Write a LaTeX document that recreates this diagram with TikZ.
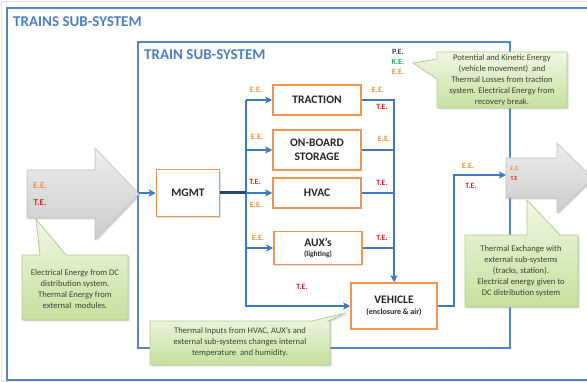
\documentclass[tikz,border=0pt]{standalone}
\usepackage{fontspec}
\setmainfont{Carlito}
\usetikzlibrary{arrows.meta,shadows,calc}
\definecolor{lnblue}{RGB}{62,122,196}
\definecolor{frblue}{RGB}{84,134,198}
\definecolor{ttlblue}{RGB}{78,128,192}
\definecolor{orng}{RGB}{240,150,85}
\definecolor{eeor}{RGB}{238,140,60}
\definecolor{tered}{RGB}{224,36,36}
\definecolor{pecol}{RGB}{45,65,125}
\definecolor{kecol}{RGB}{40,165,100}
\definecolor{grtop}{RGB}{240,247,228}
\definecolor{grbot}{RGB}{198,224,158}
\definecolor{grbrd}{RGB}{178,206,145}
\definecolor{cttext}{RGB}{62,66,52}
\definecolor{darkln}{RGB}{40,72,105}
\begin{document}
\begin{tikzpicture}[x=1pt,y=-1pt,
  bl/.style={draw=lnblue,line width=2.2pt},
  arr/.style={-{Stealth[length=7pt,width=7pt,inset=1.5pt]}},
  box/.style={draw=orng,line width=1.5pt,fill=white,minimum width=88pt,minimum height=30pt,
    align=center,font=\bfseries\fontsize{11.5}{14}\selectfont,text=black!85,inner sep=1pt,
    drop shadow={opacity=0.25,shadow xshift=1.2pt,shadow yshift=-1.2pt}},
  lab/.style={font=\bfseries\fontsize{8}{9}\selectfont,inner sep=0pt},
  ee/.style={lab,text=eeor},
  te/.style={lab,text=tered},
  frm/.style={draw=frblue,line width=1.8pt},
  callout/.style={draw=grbrd,line width=0.8pt,top color=grtop,bottom color=grbot,
    drop shadow={opacity=0.3,shadow xshift=1.5pt,shadow yshift=-1.5pt}},
  ctext/.style={font=\fontsize{8.6}{11}\selectfont,text=cttext,align=center,inner sep=0pt},
  bigarr/.style={draw=gray!50,line width=0.6pt,top color=gray!14,bottom color=gray!40,
    drop shadow={opacity=0.3,shadow xshift=1.5pt,shadow yshift=-1.5pt}},
  ttl/.style={font=\bfseries\fontsize{15}{17}\selectfont,text=ttlblue,anchor=west,inner sep=0pt}
]
\path[use as bounding box] (0,0) rectangle (587,382);
\clip (0,0) rectangle (587,382);
\fill[white] (0,0) rectangle (587,382);
\draw[blue!12,line width=0.8pt] (1,1) rectangle (592,381);

% frames
\draw[frm] (7,8) rectangle (600,380);
\draw[frm] (138,42) rectangle (510,348);

\coordinate (lbus) at (246,100);
\coordinate (ltip) at (138,193);
\coordinate (vup) at (454,175);
\coordinate (rin) at (506,175);

% nodes
\node[box] (trac) at (317,100) {TRACTION};
\node[box,minimum height=40pt] (stor) at (317,150) {ON-BOARD\\STORAGE};
\node[box] (hvac) at (317,193) {HVAC};
\node[box,minimum height=33pt] (aux) at (318,248) {AUX's\\[-4pt]{\fontsize{7.5}{9}\selectfont(lighting)}};
\node[box,minimum width=63pt,minimum height=47pt] (mgmt) at (188,193) {MGMT};
\node[box,minimum width=86pt,minimum height=46pt] (veh) at (394,306) {VEHICLE\\[-3pt]{\fontsize{8}{9}\selectfont(enclosure \& air)}};

% left bus
\draw[bl,arr] (lbus) -- (trac.west);
\draw[bl,arr] (lbus) |- (veh.west);
\draw[bl,arr] (lbus |- stor.west) -- (stor.west);
\draw[bl,arr] (mgmt.east) -- (hvac.west);
\draw[draw=darkln,line width=3pt] (mgmt.east) -- (lbus |- mgmt.east);
\draw[bl,arr] (lbus |- aux.west) -- (aux.west);
% right bus
\draw[bl,arr] (trac.east) -| (veh.north);
\draw[bl] (stor.east) -- (stor.east -| veh.north);
\draw[bl] (hvac.east) -- (hvac.east -| veh.north);
\draw[bl] (aux.east) -- (aux.east -| veh.north);
% vehicle out
\draw[bl,arr] (veh.east) -| (vup) -- (rin);
% in to mgmt
\draw[bl,arr] (ltip) -- (mgmt.west);

% big arrows
\path[bigarr] (27,170) -- (95,170) -- (95,148) -- (139,194) -- (95,240) -- (95,218) -- (27,218) -- cycle;
\path[bigarr] (506,158) -- (557,158) -- (557,143) -- (593,178) -- (557,213) -- (557,198) -- (506,198) -- cycle;

% callouts
\path[callout] (22,255) -- (40,255) -- (36,219) -- (66,255) -- (128,255) -- (128,320) -- (22,320) -- cycle;
\path[callout] (437,52) -- (567,52) -- (567,108) -- (437,108) -- (437,79) -- (413,63) -- (437,59) -- cycle;
\path[callout] (465,235) -- (527,235) -- (527,200) -- (560,235) -- (578,235) -- (578,307) -- (465,307) -- cycle;
\path[callout] (150,321) -- (312,321) -- (346,313) -- (328,321) -- (330,321) -- (330,365) -- (150,365) -- cycle;

% all texts last
\node[ttl] (t1) at (13,22) {TRAINS SUB-SYSTEM};
\node[ttl] (t2) at (144,55) {TRAIN SUB-SYSTEM};

\node[ctext] (c1) at (75,289) {Electrical Energy from DC\\distribution system.\\Thermal Energy from\\external\ \ modules.};
\node[ctext] (c2) at (502,80) {Potential and Kinetic Energy\\(vehicle movement)\ \ and\\Thermal Losses from traction\\system. Electrical Energy from\\recovery break.};
\node[ctext] (c3) at (521,271) {Thermal Exchange with\\external sub-systems\\(tracks, station).\\Electrical energy given to\\DC distribution system};
\node[ctext] (c4) at (240,342) {Thermal Inputs from HVAC, AUX's and\\external sub-systems changes internal\\temperature\ \ and humidity.};

\node[ee] (l1) at (256,90) {E.E.};
\node[ee] (l2) at (257,137) {E.E.};
\node[te] (l3) at (255,182) {\textcolor{tered}{T.E.}};
\node[ee] (l4) at (256,205) {E.E.};
\node[ee] (l5) at (258,238) {E.E.};
\node[te] (l6) at (302,287) {T.E.};
\node[ee] (r1) at (378,90) {E.E.};
\node[te] (r2) at (382,107) {T.E.};
\node[ee] (r3) at (384,139) {E.E.};
\node[te] (r4) at (382,183) {T.E.};
\node[te] (r5) at (382,238) {T.E.};
\node[lab,text=pecol] (p1) at (398,52) {P.E.};
\node[lab,text=kecol] (p2) at (398,62) {K.E.};
\node[ee] (p3) at (398,72) {E.E.};
\node[ee] (o1) at (468,166) {E.E.};
\node[te] (o2) at (471,186) {\textcolor{tered}{T.E.}};
\node[ee,font=\bfseries\fontsize{9}{10}\selectfont] (a1) at (40,186) {E.E.};
\node[te,font=\bfseries\fontsize{9}{10}\selectfont] (a2) at (40,203) {\textcolor{tered}{T.E.}};
\node[ee,font=\bfseries\fontsize{6}{7}\selectfont] (b1) at (515,169) {E.E.};
\node[te,font=\bfseries\fontsize{6}{7}\selectfont] (b2) at (514,179) {T.E};
\end{tikzpicture}
\end{document}
